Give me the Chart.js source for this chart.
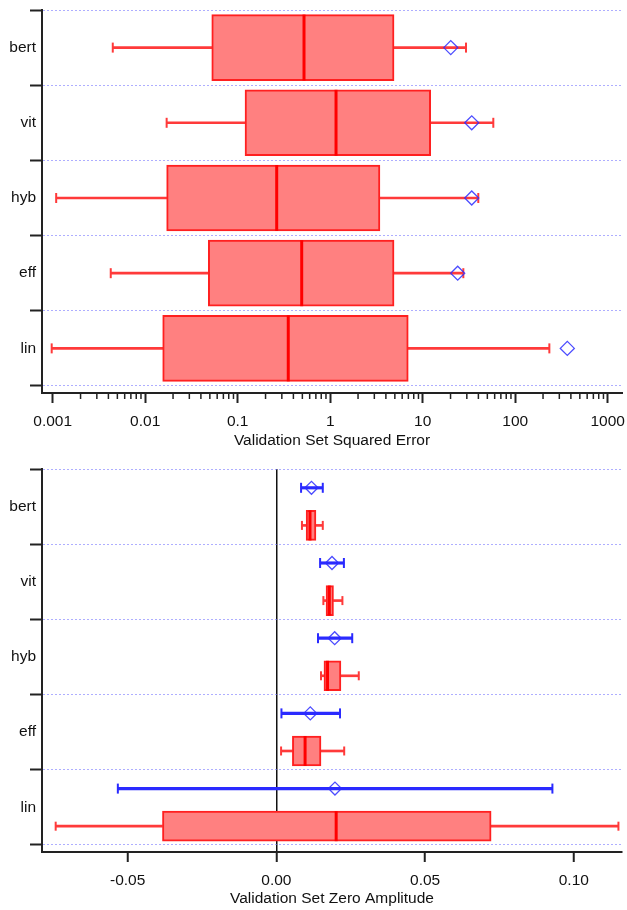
<!DOCTYPE html>
<html>
<head>
<meta charset="utf-8">
<script src="https://cdn.jsdelivr.net/npm/chart.js@4/dist/chart.umd.min.js"></script>
<style>
  html, body { margin: 0; padding: 0; background: #ffffff; }
  #wrap { position: relative; width: 627px; height: 910px; }
  canvas { position: absolute; left: 0; }
</style>
</head>
<body>
<div id="wrap">
  <canvas id="c1" width="627" height="455" style="top:0;width:627px;height:455px"></canvas>
  <canvas id="c2" width="627" height="455" style="top:455px;width:627px;height:455px"></canvas>
</div>
<script>
// ---------------- DATA ----------------
const categories = ['bert', 'vit', 'hyb', 'eff', 'lin'];

// Top panel: Validation Set Squared Error (log axis)
const seWhiskerLow  = [0.00446, 0.01705, 0.00109, 0.00424, 0.000975];
const seQ1          = [0.0524,  0.120,   0.01705, 0.0481,  0.01545];
const seMedian      = [0.521,   1.156,   0.264,   0.492,   0.352];
const seQ3          = [4.90,    12.2,    3.45,    4.90,    6.98];
const seWhiskerHigh = [29.4,    58.0,    39.9,    27.5,    234];
const seMean        = [20.1,    33.9,    33.9,    23.9,    366];
const seTickValues  = [0.001, 0.01, 0.1, 1, 10, 100, 1000];
const seTickLabels  = ['0.001', '0.01', '0.1', '1', '10', '100', '1000'];

// Bottom panel: Validation Set Zero Amplitude (linear axis)
const zaWhiskerLow  = [0.0086, 0.0158, 0.0150, 0.00158, -0.0742];
const zaQ1          = [0.0100, 0.0167, 0.0160, 0.00538, -0.0383];
const zaMedian      = [0.0113, 0.0178, 0.0172, 0.00965,  0.0201];
const zaQ3          = [0.0133, 0.0192, 0.0217, 0.0150,   0.0722];
const zaWhiskerHigh = [0.0156, 0.0222, 0.0277, 0.0228,   0.115];
const zaMean        = [0.0118, 0.0187, 0.0196, 0.0114,   0.0197];
const zaMeanLow     = [0.0083, 0.0147, 0.0140, 0.0017,  -0.0533];
const zaMeanHigh    = [0.0156, 0.0227, 0.0255, 0.0214,   0.0928];
const zaTickValues  = [-0.05, 0, 0.05, 0.10];
const zaTickLabels  = ['-0.05', '0.00', '0.05', '0.10'];

// ---------------- STYLE ----------------
const FONT = { family: "'Liberation Sans', Arial, sans-serif", size: 15.5 };
const XTICK_FONT = { family: "'Liberation Sans', Arial, sans-serif", size: 15.5, lineHeight: 2.3 };
const TEXT = '#111111';
const AXIS = '#222222';
const BOX_FILL = '#ff8080';
const BOX_EDGE = '#ff2020';
const MEDIAN = '#ff0000';
const WHISK = '#ff3a3a';
const DIAMOND = 'rgba(45,45,255,0.85)';
const ERRBLUE = '#2a2aff';
const GRIDBLUE = 'rgba(120,120,255,0.6)';
const CLEAR = 'rgba(0,0,0,0)';

function pts(vals, row) { return vals.map((v, i) => ({ x: v, y: row(i) })); }
function spans(a, b, row) { return a.map((v, i) => ({ x: [v, b[i]], y: row(i) })); }

function boxSets(lo, q1, med, q3, hi, row, boxH, capR) {
  return [
    { type: 'scatter', data: pts(med, row), pointStyle: 'line', rotation: 90,
      radius: boxH / 2, borderColor: MEDIAN, borderWidth: 3, backgroundColor: MEDIAN },
    { type: 'scatter', data: pts(lo, row).concat(pts(hi, row)), pointStyle: 'line', rotation: 90,
      radius: capR, borderColor: WHISK, borderWidth: 2, backgroundColor: WHISK },
    { type: 'bar', indexAxis: 'y', grouped: false, data: spans(q1, q3, row), barThickness: boxH,
      backgroundColor: BOX_FILL, borderColor: BOX_EDGE, borderWidth: 2, borderSkipped: false },
    { type: 'bar', indexAxis: 'y', grouped: false, data: spans(lo, q1, row).concat(spans(q3, hi, row)),
      barThickness: 2, backgroundColor: WHISK, borderWidth: 0 }
  ];
}

function categoryAxis() {
  return {
    type: 'linear', reverse: true, min: 0, max: categories.length + 7 / 75, bounds: 'data',
    offset: false, beginAtZero: false,
    afterBuildTicks: s => {
      const t = [];
      for (let v = 0; v <= categories.length; v += 0.5) t.push({ value: v });
      s.ticks = t;
    },
    afterFit: s => { s.width = 42; },
    ticks: {
      autoSkip: false, padding: -6, color: TEXT, font: FONT,
      callback: v => Number.isInteger(v) ? '' : categories[Math.floor(v)]
    },
    grid: {
      offset: false,
      color: c => (c.tick && Number.isInteger(c.tick.value)) ? GRIDBLUE : CLEAR,
      tickColor: c => (c.tick && Number.isInteger(c.tick.value)) ? AXIS : CLEAR,
      lineWidth: 1, tickLength: 12, tickWidth: 2, tickBorderDash: []
    },
    border: { color: AXIS, width: 2, dash: [2, 2] }
  };
}

const minorLogTicks = {
  id: 'minorLogTicks',
  afterDraw(chart) {
    const s = chart.scales.x;
    const ctx = chart.ctx;
    ctx.save();
    ctx.strokeStyle = AXIS;
    ctx.lineWidth = 1.5;
    for (let d = -3; d < 3; d++) {
      for (let k = 2; k < 10; k++) {
        const px = s.getPixelForValue(k * Math.pow(10, d));
        if (px < s.left || px > s.right) continue;
        ctx.beginPath();
        ctx.moveTo(px, s.top);
        ctx.lineTo(px, s.top + 6);
        ctx.stroke();
      }
    }
    ctx.restore();
  }
};

const common = {
  responsive: false, devicePixelRatio: 1, animation: false, events: [],
  plugins: { legend: { display: false }, tooltip: { enabled: false } }
};

// ---------------- TOP CHART ----------------
const topRow = i => i + 0.5;
new Chart(document.getElementById('c1'), {
  type: 'bar',
  data: {
    datasets: [
      { type: 'scatter', data: pts(seMean, topRow), pointStyle: 'rectRot', radius: 7,
        borderColor: DIAMOND, borderWidth: 1.3, backgroundColor: CLEAR }
    ].concat(boxSets(seWhiskerLow, seQ1, seMedian, seQ3, seWhiskerHigh, topRow, 66, 5))
  },
  options: Object.assign({}, common, {
    layout: { autoPadding: false, padding: { top: 10, right: 5, bottom: 4, left: 0 } },
    scales: {
      x: {
        type: 'logarithmic', min: 0.000766, max: 1428, bounds: 'data', beginAtZero: false,
        offset: false,
        afterBuildTicks: s => { s.ticks = seTickValues.map(v => ({ value: v })); },
        afterFit: s => { s.height = 58; },
        ticks: { autoSkip: false, maxRotation: 0, minRotation: 0, padding: 1, color: TEXT, font: XTICK_FONT,
                 callback: (v, i) => seTickLabels[i] },
        grid: { offset: false, drawOnChartArea: false, tickLength: 10, tickWidth: 2, tickColor: AXIS, color: AXIS },
        border: { color: AXIS, width: 2 },
        title: { display: true, text: 'Validation Set Squared Error', color: TEXT, font: FONT,
                 padding: { top: 0, bottom: 1 } }
      },
      y: categoryAxis()
    }
  }),
  plugins: [minorLogTicks]
});

// ---------------- BOTTOM CHART ----------------
const meanRow = i => i + 0.25;
const boxRow = i => i + 0.75;
new Chart(document.getElementById('c2'), {
  type: 'bar',
  data: {
    datasets: [
      { type: 'scatter', data: pts(zaMean, meanRow), pointStyle: 'rectRot', radius: 6.5,
        borderColor: DIAMOND, borderWidth: 1.3, backgroundColor: CLEAR },
      { type: 'scatter', data: pts(zaMeanLow, meanRow).concat(pts(zaMeanHigh, meanRow)),
        pointStyle: 'line', rotation: 90, radius: 5, borderColor: ERRBLUE, borderWidth: 2 },
      { type: 'bar', indexAxis: 'y', grouped: false, data: spans(zaMeanLow, zaMeanHigh, meanRow),
        barThickness: 2.5, backgroundColor: ERRBLUE, borderWidth: 0 }
    ].concat(boxSets(zaWhiskerLow, zaQ1, zaMedian, zaQ3, zaWhiskerHigh, boxRow, 30, 4.5))
  },
  options: Object.assign({}, common, {
    layout: { autoPadding: false, padding: { top: 14, right: 5, bottom: 0, left: 0 } },
    scales: {
      x: {
        type: 'linear', min: -0.0788, max: 0.1162, bounds: 'data', beginAtZero: false,
        offset: false,
        afterBuildTicks: s => { s.ticks = zaTickValues.map(v => ({ value: v })); },
        afterFit: s => { s.height = 58; },
        ticks: { autoSkip: false, maxRotation: 0, minRotation: 0, padding: 1, color: TEXT, font: XTICK_FONT,
                 callback: (v, i) => zaTickLabels[i] },
        grid: {
          offset: false,
          drawOnChartArea: true,
          color: c => (c.tick && c.tick.value === 0) ? '#111111' : CLEAR,
          lineWidth: 1.5, tickLength: 10, tickWidth: 2, tickColor: AXIS
        },
        border: { color: AXIS, width: 2 },
        title: { display: true, text: 'Validation Set Zero Amplitude', color: TEXT, font: FONT,
                 padding: { top: 0, bottom: 1.5 } }
      },
      y: categoryAxis()
    }
  })
});
</script>
</body>
</html>
